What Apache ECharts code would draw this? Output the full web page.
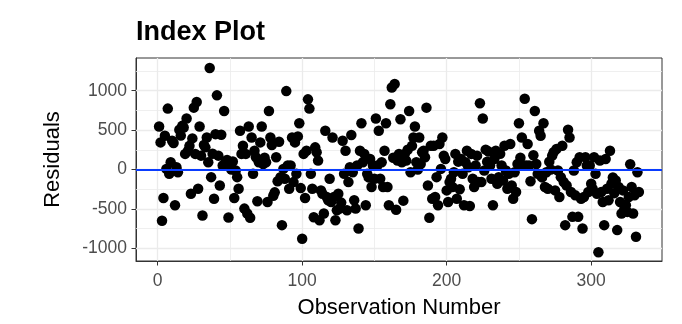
<!DOCTYPE html>
<html>
<head>
<meta charset="utf-8">
<script src="https://cdn.jsdelivr.net/npm/echarts@6/dist/echarts.min.js"></script>
<style>
html,body{margin:0;padding:0;background:#fff;}
#chart{width:682px;height:324px;}
</style>
</head>
<body>
<div id="chart"></div>
<script>
// Residual for each observation (observation number = position + 1)
const residuals = [
  546, 344, -651, -361, 428, 8, 773, -55, 92, 365,
  336, -454, 30, -34, 504, 430, 554, 533, 198, 647,
  239, 300, -307, 395, 785, 198, 857, -244, 546, 176,
  -584, 311, 281, 407, 92, 1289, -97, 200, -370, 449,
  941, 176, -202, 441, 50, 743, 100, 120, -609, 60,
  0, 101, -361, -13, -97, -244, 491, 198, 302, -496,
  198, -559, 546, -613, 407, -55, 239, 155, -403, 92,
  344, 546, 71, 150, 92, -412, 743, 407, 311, -332,
  -290, 155, -150, 353, -97, -706, 8, -118, 995, 50,
  -244, 50, 407, -160, 344, -55, 420, 588, -236, -878,
  198, -361, 239, 890, 773, -55, -244, -605, 281, 218,
  113, -643, -265, -307, -559, 491, -349, -391, -118, -412,
  407, -349, -643, -517, -307, -496, -420, 365, -55, 239,
  -517, -160, 29, 437, -34, -391, -496, 50, -748, 239,
  588, 92, 198, -454, -55, -100, 134, -223, 50, -118,
  647, 50, 491, -118, 92, -223, 239, 588, -223, -454,
  827, 1040, 150, 1085, -510, 113, 198, 638, 92, -395,
  198, 113, 250, 743, -34, 300, 407, 546, 92, 0,
  407, 71, 218, 239, 155, 785, -202, -613, 302, -370,
  302, -349, -97, -454, 323, 8, 407, 176, 134, -265,
  -412, -160, -118, -223, -34, 198, -370, 100, -250, 134,
  -55, -454, 92, 239, 29, -462, 198, -118, -223, 50,
  176, -160, 840, -160, 647, -13, 252, 100, 227, 50,
  -118, -454, 134, 239, -181, -97, 200, 50, -139, 302,
  -13, -244, -55, 323, -202, -370, -34, -286, 71, 588,
  150, 407, 50, 899, 50, 323, 50, -149, -630, 181,
  743, 71, -55, 491, 428, -100, 588, -223, -34, -244,
  100, 0, 176, 218, -265, 260, -13, -349, -97, 302,
  -160, -706, -202, 504, 407, -286, -601, -13, -328, 92,
  -601, 155, -370, -748, -349, 155, 50, -286, 50, -181,
  -244, 155, -55, -307, -1050, 113, -286, -412, -706, 134,
  -244, -391, 239, -181, -100, -300, -139, -769, -223, -412,
  -559, -265, -496, -454, -538, -350, 67, -223, -559, -328,
  -853, -34, -286
];
const xTicks = [0, 100, 200, 300];
const xMinorTicks = [50, 150, 250];
const yTicks = [-1000, -500, 0, 500, 1000];
const yMinorTicks = [-750, -250, 250, 750, 1250];
const referenceLine = 0;
const xRange = [-15, 349];
const yRange = [-1161, 1415];

const FONT = 'Liberation Sans, Arial, Helvetica, sans-serif';
const points = residuals.map((v, i) => [i + 1, v]);

const gridLines = []
  .concat(xMinorTicks.map(v => ({ xAxis: v, lineStyle: { color: '#EBEBEB', width: 0.8, type: 'solid' } })))
  .concat(yMinorTicks.map(v => ({ yAxis: v, lineStyle: { color: '#EBEBEB', width: 0.8, type: 'solid' } })))
  .concat(xTicks.map(v => ({ xAxis: v, lineStyle: { color: '#EBEBEB', width: 1.3, type: 'solid' } })))
  .concat(yTicks.map(v => ({ yAxis: v, lineStyle: { color: '#EBEBEB', width: 1.3, type: 'solid' } })));

const plain = v => String(v);

const chart = echarts.init(document.getElementById('chart'), null, { renderer: 'canvas' });
chart.setOption({
  animation: false,
  backgroundColor: '#ffffff',
  title: {
    text: 'Index Plot',
    left: 131,
    top: 14,
    textStyle: { fontFamily: FONT, fontSize: 27, fontWeight: 'bold', color: '#000' }
  },
  grid: {
    left: 136, right: 20, top: 58, bottom: 63,
    show: true, borderColor: '#333333', borderWidth: 1, backgroundColor: '#fff'
  },
  xAxis: {
    type: 'value',
    min: xRange[0], max: xRange[1],
    name: 'Observation Number',
    nameLocation: 'middle',
    nameGap: 36,
    nameTextStyle: { fontFamily: FONT, fontSize: 22, color: '#000' },
    axisLine: { show: true, onZero: false, lineStyle: { color: '#333333', width: 1 } },
    axisTick: { show: true, length: 4.5, customValues: xTicks, lineStyle: { color: '#333333', width: 1 } },
    axisLabel: { customValues: xTicks, formatter: plain, margin: 11, fontFamily: FONT, fontSize: 17.5, color: '#4D4D4D' },
    splitLine: { show: false }
  },
  yAxis: {
    type: 'value',
    min: yRange[0], max: yRange[1],
    name: 'Residuals',
    nameLocation: 'middle',
    nameGap: 72,
    nameTextStyle: { fontFamily: FONT, fontSize: 22, color: '#000' },
    axisLine: { show: true, onZero: false, lineStyle: { color: '#333333', width: 1 } },
    axisTick: { show: true, length: 4.5, customValues: yTicks, lineStyle: { color: '#333333', width: 1 } },
    axisLabel: { customValues: yTicks, formatter: plain, margin: 9, fontFamily: FONT, fontSize: 17.5, color: '#4D4D4D' },
    splitLine: { show: false }
  },
  series: [
    {
      type: 'scatter',
      data: [],
      z: 1,
      silent: true,
      markLine: {
        z: 1,
        silent: true,
        symbol: ['none', 'none'],
        label: { show: false },
        emphasis: { disabled: true },
        data: gridLines
      }
    },
    {
      type: 'scatter',
      data: points,
      z: 3,
      symbol: 'circle',
      symbolSize: 10.5,
      itemStyle: { color: '#000000', opacity: 1 },
      silent: true
    },
    {
      type: 'scatter',
      data: [],
      z: 5,
      silent: true,
      markLine: {
        z: 6,
        silent: true,
        symbol: ['none', 'none'],
        label: { show: false },
        emphasis: { disabled: true },
        lineStyle: { color: '#0A3CFF', width: 2, type: 'solid' },
        data: [{ yAxis: referenceLine }]
      }
    }
  ]
});
</script>
</body>
</html>
